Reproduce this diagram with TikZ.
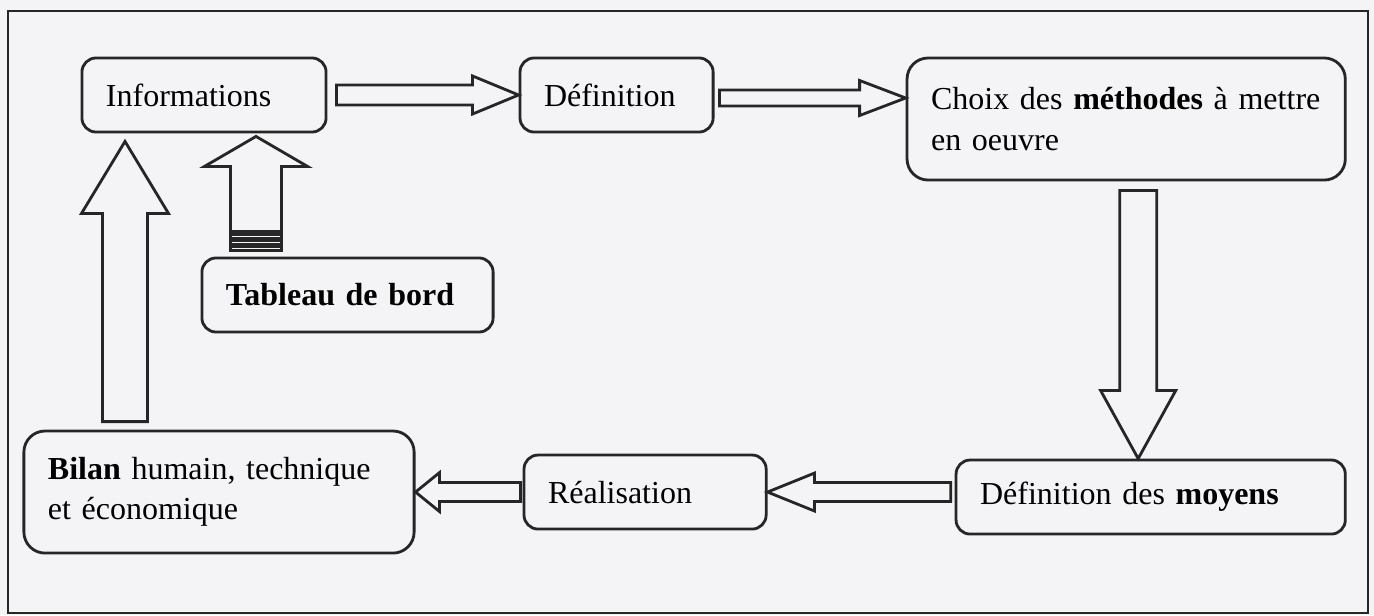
\documentclass[tikz,border=0pt]{standalone}
\usepackage{fontspec}
\setmainfont{Liberation Serif}
\usetikzlibrary{positioning,calc}

\definecolor{paper}{RGB}{244,244,246}

%% 空心方塊箭頭: #1 起點, #2 箭尖, #3 箭身半寬, #4 箭頭半寬, #5 箭頭長度
\newcommand{\hollowarr}[5]{%
  \coordinate (ha-b) at ($(#2)!#5!(#1)$);
  \draw[blockarr] ($(#1)!#3!90:(#2)$) -- ($(ha-b)!#3!-90:(#1)$)
    -- ($(ha-b)!#4!-90:(#1)$) -- (#2) -- ($(ha-b)!#4!90:(#1)$)
    -- ($(ha-b)!#3!90:(#1)$) -- ($(#1)!#3!-90:(#2)$) -- cycle;
}

\begin{document}
\begin{tikzpicture}[
  x=0.01cm, y=0.01cm,
  font=\fontsize{9.1}{11.5}\selectfont,
  every node/.style={align=left},
  %% ─── 樣式定義 ─────────────────────────────────
  box/.style={
    draw=black!85, rounded corners=4pt, line width=0.8pt,
    inner xsep=0.24cm, inner ysep=0pt, minimum height=0.74cm},
  tallbox/.style={box, rounded corners=6pt, minimum height=1.22cm},
  %% ─── 箭頭樣式 ─────────────────────────────────
  blockarr/.style={draw=black!85, line width=0.8pt, line join=miter}
]

  %% 背景與外框
  \path[use as bounding box, fill=paper] (0,0) rectangle (1374,-615);
  \draw[black!85, line width=0.8pt] (8,-11) rectangle (1368,-613);

  %% ════════════════════════════════════════════════════════════════
  %%  上排 (Informations -> Définition -> Choix)
  %% ════════════════════════════════════════════════════════════════
  \node[box, text width=1.96cm] (info) at (204,-95) {Informations};
  \node[box, text width=1.45cm, right=1.91cm of info] (def) {Définition};
  \node[tallbox, text width=3.90cm, right=1.91cm of def.north east, anchor=north west] (choix)
        {Choix des \textbf{méthodes} à mettre\\en oeuvre};

  \node[box, text width=2.43cm] (tab) at (347.5,-295) {\textbf{Tableau de bord}};

  %% ════════════════════════════════════════════════════════════════
  %%  下排 (moyens -> Réalisation -> Bilan)
  %% ════════════════════════════════════════════════════════════════
  \node[box, text width=3.41cm, below=2.77cm of choix.south east, anchor=north east] (moyens)
        {Définition des \textbf{moyens}};
  \node[box, text width=1.94cm, left=1.87cm of moyens, yshift=0.05cm] (real) {Réalisation};
  \node[tallbox, text width=3.42cm, left=1.07cm of real] (bilan)
        {\textbf{Bilan} humain, technique\\et économique};

  %% ════════════════════════════════════════════════════════════════
  %%  空心箭頭佈線
  %% ════════════════════════════════════════════════════════════════
  \path (info.east |- def.west) ++(9,0) coordinate (a1s);
  \hollowarr{a1s}{def.west}{0.10cm}{0.19cm}{0.46cm}

  \path (def.east) ++(5,-3) coordinate (a2s);
  \hollowarr{a2s}{choix.west |- a2s}{0.08cm}{0.175cm}{0.46cm}

  \path (choix.south) ++(12,-9) coordinate (a3s);
  \hollowarr{a3s}{a3s |- moyens.north}{0.185cm}{0.375cm}{0.68cm}

  \path (moyens.west |- real.east) ++(-4,0) coordinate (a4s);
  \hollowarr{a4s}{real.east}{0.095cm}{0.19cm}{0.47cm}

  \path (real.west) ++(-2,0) coordinate (a5s);
  \hollowarr{a5s}{bilan.east |- a5s}{0.095cm}{0.195cm}{0.24cm}

  % Bilan 回到 Informations
  \path (info.south) ++(-79,-8) coordinate (a6t);
  \path (a6t |- bilan.north) ++(0,8) coordinate (a6s);
  \hollowarr{a6s}{a6t}{0.225cm}{0.435cm}{0.72cm}

  % Tableau de bord -> Informations (尾端條紋)
  \path (info.south) ++(52,-3) coordinate (a7t);
  \path (a7t |- tab.north) ++(0,25) coordinate (a7s);
  \hollowarr{a7s}{a7t}{0.255cm}{0.515cm}{0.30cm}
  \foreach \dy in {3,9,15}
    \draw[blockarr] (a7s) ++(-25.5,-\dy) rectangle ++(51,-4);

\end{tikzpicture}
\end{document}
